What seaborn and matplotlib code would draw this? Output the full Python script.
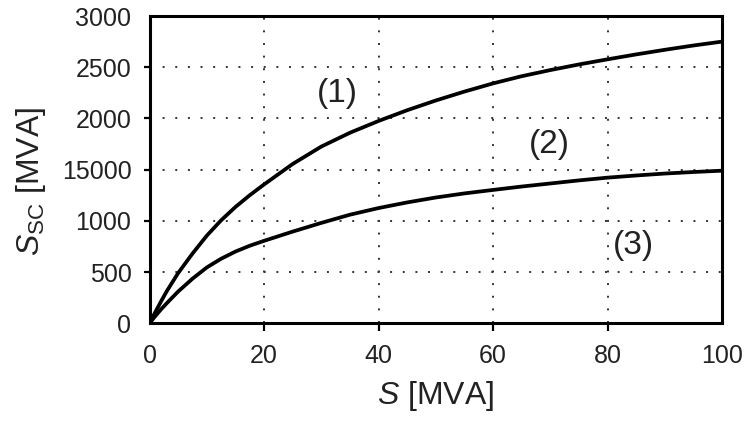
import matplotlib
matplotlib.use("Agg")
import matplotlib.pyplot as plt
import seaborn as sns
import pandas as pd

# Data
s_mva = [0, 1, 2, 3, 5, 7.5, 10, 12.5, 15, 17.5, 20, 25, 30, 35, 40, 45, 50,
         55, 60, 65, 70, 75, 80, 85, 90, 95, 100]
curve1 = [0, 108, 212, 312, 490, 680, 855, 1005, 1135, 1250, 1355, 1555, 1725, 1860, 1975,
          2080, 2175, 2262, 2342, 2412, 2472, 2527, 2577, 2625, 2670, 2712, 2750]
curve2 = [0, 70, 135, 195, 310, 435, 545, 630, 700, 757, 805, 895, 980, 1060, 1125,
          1180, 1228, 1268, 1302, 1335, 1365, 1395, 1422, 1443, 1462, 1477, 1490]

x_ticks = [0, 20, 40, 60, 80, 100]
x_tick_labels = ["0", "20", "40", "60", "80", "100"]
y_ticks = [0, 500, 1000, 1500, 2000, 2500, 3000]
y_tick_labels = ["0", "500", "1000", "15000", "2000", "2500", "3000"]

annot_labels = ["(1)", "(2)", "(3)"]
annot_x = [32.8, 69.9, 84.5]
annot_y = [2241, 1750, 764]

df = pd.DataFrame({
    "S": s_mva * 2,
    "Ssc": curve1 + curve2,
    "curve": ["1"] * len(s_mva) + ["2"] * len(s_mva),
})

sns.set_theme(style="white")
plt.rcParams["font.family"] = ["Liberation Sans", "DejaVu Sans"]
plt.rcParams["mathtext.fontset"] = "custom"
plt.rcParams["mathtext.rm"] = "Liberation Sans"
plt.rcParams["mathtext.it"] = "Liberation Sans:italic"
plt.rcParams["mathtext.bf"] = "Liberation Sans:bold"

fig = plt.figure(figsize=(7.49, 4.23), dpi=100)
ax = fig.add_axes([149.5 / 749, (423 - 323.3) / 423, (722 - 149.5) / 749, (323.3 - 16) / 423])

sns.lineplot(data=df, x="S", y="Ssc", units="curve", estimator=None,
             color="black", linewidth=2.7, ax=ax, legend=False)
for ln in ax.get_lines():
    ln.set_solid_joinstyle("round")
    ln.set_solid_capstyle("round")

ax.set_xlim(0, 100)
ax.set_ylim(0, 3000)
ax.set_xticks(x_ticks)
ax.set_xticklabels(x_tick_labels)
ax.set_yticks(y_ticks)
ax.set_yticklabels(y_tick_labels)

ax.grid(True, color="#333333", linestyle=(0, (1, 5.5)), linewidth=1.4)
ax.set_axisbelow(True)

for sp in ax.spines.values():
    sp.set_visible(True)
    sp.set_color("black")
    sp.set_linewidth(2.2)

ax.tick_params(axis="x", which="major", direction="out", length=6, width=1.6,
               labelsize=18, pad=9, colors="black", bottom=True)
ax.tick_params(axis="y", which="major", direction="out", length=4, width=1.6,
               labelsize=18, pad=9, colors="black", left=True)
for t in (ax.xaxis.get_major_ticks()[0], ax.xaxis.get_major_ticks()[-1],
          ax.yaxis.get_major_ticks()[0], ax.yaxis.get_major_ticks()[-1]):
    t.tick1line.set_visible(False)
for lab in ax.get_xticklabels() + ax.get_yticklabels():
    lab.set_color("#222222")

ax.set_xlabel("$S$ [MVA]", fontsize=23, color="#222222")
ax.set_ylabel(r"$S_{\mathrm{SC}}$ [MVA]", fontsize=23, color="#222222")
ax.xaxis.label.set_va("center")
ax.yaxis.label.set_va("center")
ax.xaxis.set_label_coords(0.5, (323.3 - 396) / 307.3)
ax.yaxis.set_label_coords((31 - 149.5) / 572.5, (323.3 - 181.7) / 307.3)

for lab, xx, yy in zip(annot_labels, annot_x, annot_y):
    ax.text(xx, yy, lab, ha="center", va="center", fontsize=24, color="#222222")

fig.savefig("out.png", dpi=100)
